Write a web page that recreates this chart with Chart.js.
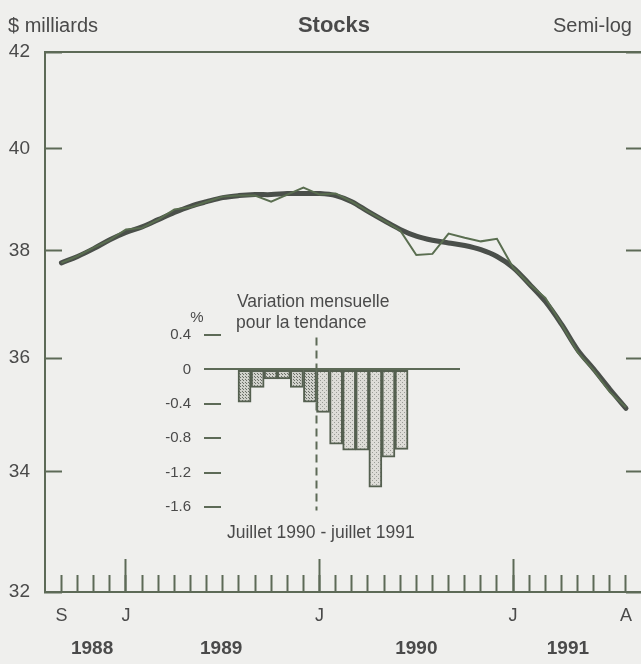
<!DOCTYPE html>
<html><head><meta charset="utf-8">
<script src="https://cdn.jsdelivr.net/npm/chart.js@4/dist/chart.umd.min.js"></script>
<style>
html,body{margin:0;padding:0;background:#efefed;overflow:hidden}
#wrap{position:relative;width:641px;height:664px;font-family:'Liberation Sans',Arial,sans-serif;color:#4a4a4a}
#main{position:absolute;left:0;top:0}
#inset{position:absolute;left:140px;top:280px}
.t{position:absolute;white-space:nowrap;line-height:1;transform:translateY(-50%)}
</style></head><body>
<div id="wrap">
<canvas id="main" width="641" height="664"></canvas>
<canvas id="inset" width="340" height="260"></canvas>
<div class="t" style="left:8px;top:25px;font-size:20px">$ milliards</div>
<div class="t" style="left:334px;top:25px;font-size:22px;font-weight:bold;transform:translate(-50%,-50%)">Stocks</div>
<div class="t" style="left:553px;top:25px;font-size:20px">Semi-log</div>
<div class="t" style="left:237px;top:302px;font-size:17.5px">Variation mensuelle</div>
<div class="t" style="left:236px;top:323px;font-size:17.5px">pour la tendance</div>
<div class="t" style="left:197px;top:316px;font-size:15px;transform:translate(-50%,-50%)">%</div>
<div class="t" style="left:227px;top:533px;font-size:17.5px">Juillet 1990 - juillet 1991</div>
</div>
<script>
// ---- data ----
// months from Sep 1988 (index 0) to Aug 1991 (index 35)
const months = ['S','O','N','D','J','F','M','A','M','J','J','A',
                'S','O','N','D','J','F','M','A','M','J','J','A',
                'S','O','N','D','J','F','M','A','M','J','J','A'];
const labelledMonths = [0, 4, 16, 28, 35];
const januaryTicks = [4, 16, 28];
const yearLabels = ['1988', '1989', '1990', '1991'];
const yearTickPos = [1.9, 9.9, 22.0, 31.4];
const yTicks = [32, 34, 36, 38, 40, 42];
// monthly stocks, $ billions
const actual = [37.77, 37.90, 38.06, 38.21, 38.41, 38.44, 38.60, 38.80, 38.84, 38.95, 39.05, 39.07,
                39.07, 38.95, 39.09, 39.23, 39.09, 39.11, 38.95, 38.76, 38.58, 38.39, 37.92, 37.94,
                38.33, 38.25, 38.18, 38.23, 37.68, 37.37, 37.11, 36.62, 36.11, 35.78, 35.39, 35.12];
const trend  = [37.77, 37.89, 38.04, 38.21, 38.35, 38.46, 38.60, 38.74, 38.86, 38.95, 39.03, 39.07,
                39.09, 39.09, 39.11, 39.11, 39.11, 39.07, 38.95, 38.76, 38.58, 38.41, 38.28, 38.20,
                38.15, 38.10, 38.02, 37.89, 37.68, 37.37, 37.04, 36.62, 36.15, 35.80, 35.44, 35.10];
// inset: monthly % change of trend, Jul 1990 - Jul 1991
const insetMonths = ['Jul 90','Aug 90','Sep 90','Oct 90','Nov 90','Dec 90','Jan 91','Feb 91','Mar 91','Apr 91','May 91','Jun 91','Jul 91'];
const insetChange = [-0.38, -0.21, -0.11, -0.11, -0.21, -0.38, -0.50, -0.87, -0.94, -0.94, -1.37, -1.02, -0.93];
const insetTicks = [0.4, 0, -0.4, -0.8, -1.2, -1.6];
const yearBreak = 5.5; // between Dec 90 and Jan 91 in the inset

// ---- styles ----
const FONT = "'Liberation Sans', Arial, sans-serif";
const TXT = '#4a4a4a';
const AX = '#5d6a57';
const THICK = '#4a4f4a';
const THIN = '#5a6e50';

function stipple(bg, dot, step) {
  const c = document.createElement('canvas'); c.width = step; c.height = step;
  const g = c.getContext('2d'); g.fillStyle = bg; g.fillRect(0, 0, step, step);
  g.fillStyle = dot; g.fillRect(0, 0, 1, 1); g.fillRect(Math.floor(step / 2), Math.floor(step / 2), 1, 1);
  return g.createPattern(c, 'repeat');
}
const patDark = stipple('#d0d1cb', '#6a6e66', 3);
const patLight = stipple('#dddcd7', '#9a9c96', 4);

const xMin = -1.02, xMax = 35.93;
const setTicks = arr => s => { s.ticks = arr.map(v => ({ value: v })); };
const fixH = h => s => { s.height = h; s.paddingLeft = 0; s.paddingRight = 0; };

new Chart(document.getElementById('main'), {
  type: 'line',
  data: {
    datasets: [
      { label: 'Stocks', data: actual.map((v, i) => ({ x: i, y: v })), borderColor: THIN, borderWidth: 2,
        pointRadius: 0, tension: 0, fill: false },
      { label: 'Tendance', data: trend.map((v, i) => ({ x: i, y: v })), borderColor: THICK, borderWidth: 5,
        pointRadius: 0, tension: 0.35, fill: false, borderCapStyle: 'round', borderJoinStyle: 'round' }
    ]
  },
  options: {
    responsive: false, animation: false,
    layout: { padding: { left: 0, right: 0, top: 52, bottom: 0 } },
    plugins: { legend: { display: false }, tooltip: { enabled: false }, title: { display: false } },
    scales: {
      xMajor: { type: 'linear', position: 'bottom', min: xMin, max: xMax,
        afterBuildTicks: setTicks(januaryTicks),
        afterFit: fixH(0),
        ticks: { display: false },
        grid: { drawOnChartArea: false, drawTicks: true, tickLength: -33, tickColor: AX, tickWidth: 2 },
        border: { display: false } },
      x: { type: 'linear', position: 'bottom', min: xMin, max: xMax,
        afterBuildTicks: setTicks(months.map((m, i) => i)),
        afterFit: fixH(40),
        ticks: { autoSkip: false, maxRotation: 0, padding: 30, color: TXT, font: { family: FONT, size: 18 },
          callback: (v, i) => labelledMonths.includes(i) ? months[i] : '' },
        grid: { drawOnChartArea: false, drawTicks: true, tickLength: -17, tickColor: AX, tickWidth: 2 },
        border: { display: true, color: AX, width: 2 } },
      xYear: { type: 'linear', position: 'bottom', min: xMin, max: xMax,
        afterBuildTicks: setTicks(yearTickPos),
        afterFit: fixH(32),
        ticks: { autoSkip: false, maxRotation: 0, padding: 5.6, color: TXT,
          font: { family: FONT, size: 19, weight: 'bold' },
          callback: (v, i) => yearLabels[i] },
        grid: { display: false, drawTicks: false },
        border: { display: false } },
      xTop: { type: 'linear', position: 'top', min: xMin, max: xMax,
        afterFit: fixH(0),
        ticks: { display: false },
        grid: { display: false, drawTicks: false },
        border: { display: true, color: AX, width: 2 } },
      y: { type: 'logarithmic', position: 'left', min: 32, max: 42,
        afterBuildTicks: setTicks(yTicks),
        afterFit: s => { s.width = 45; s.paddingTop = 0; s.paddingBottom = 0; },
        ticks: { padding: 32, color: TXT, font: { family: FONT, size: 19 }, callback: v => String(v) },
        grid: { drawOnChartArea: false, drawTicks: true, tickLength: -17, tickColor: AX, tickWidth: 2 },
        border: { display: true, color: AX, width: 2 } },
      yRight: { type: 'logarithmic', position: 'right', min: 32, max: 42,
        afterBuildTicks: setTicks(yTicks),
        afterFit: s => { s.width = 0; s.paddingTop = 0; s.paddingBottom = 0; },
        ticks: { display: false },
        grid: { drawOnChartArea: false, drawTicks: true, tickLength: -15, tickColor: AX, tickWidth: 2 },
        border: { display: false } }
    }
  }
});

new Chart(document.getElementById('inset'), {
  type: 'bar',
  data: {
    labels: insetMonths,
    datasets: [
      { type: 'line', data: [{ x: yearBreak, y: 0.37 }, { x: yearBreak, y: -1.64 }], borderColor: AX,
        borderWidth: 2, borderDash: [8, 5], pointRadius: 0, clip: false, order: 0 },
      { type: 'bar', data: insetChange.map((v, i) => ({ x: i, y: v })),
        backgroundColor: ctx => ctx.dataIndex < 6 ? patDark : patLight,
        borderColor: '#556050', borderWidth: 2, borderSkipped: false,
        barPercentage: 1, categoryPercentage: 1, order: 1 }
    ]
  },
  options: {
    responsive: false, animation: false,
    layout: { padding: { left: 0, right: 20, top: 55, bottom: 33 } },
    plugins: { legend: { display: false }, tooltip: { enabled: false } },
    scales: {
      x: { type: 'linear', min: -3.1, max: 16.47, display: false, offset: false },
      y: { min: -1.6, max: 0.4,
        afterBuildTicks: setTicks(insetTicks),
        afterFit: s => { s.width = 64; s.paddingTop = 0; s.paddingBottom = 0; },
        ticks: { padding: 30, color: TXT, font: { family: FONT, size: 15 },
          callback: v => v === 0 ? '0' : v.toFixed(1) },
        grid: { drawOnChartArea: true, lineWidth: 2,
          color: ctx => (ctx.tick && ctx.tick.value === 0) ? AX : 'rgba(0,0,0,0)',
          drawTicks: true, tickLength: -17, tickColor: AX, tickWidth: 2 },
        border: { display: false } }
    }
  }
});
</script>
</body></html>
